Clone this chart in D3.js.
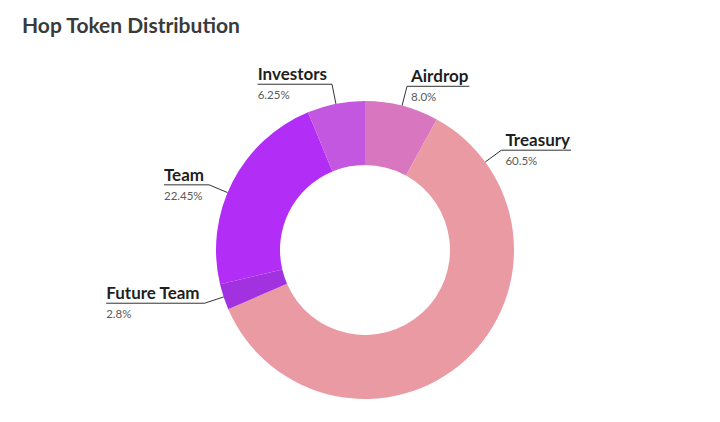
<!DOCTYPE html>
<html>
<head>
<meta charset="UTF-8">
<title>Hop Token Distribution</title>
<style>
html, body {
    margin: 0;
    padding: 0;
    background-color: #fff;
}
.title {
    font-family: Lato, sans-serif;
    font-weight: 700;
    font-size: 21px;
    fill: #3a3a3a;
}
.lbl-name {
    font-family: Lato, sans-serif;
    font-weight: 700;
    font-size: 17px;
    fill: #1f1f1f;
}
.lbl-pct {
    font-family: Lato, sans-serif;
    font-size: 11.5px;
    fill: #5a5a5a;
}
.leader {
    fill: none;
    stroke: #333;
    stroke-width: 1;
}
</style>
</head>
<body>
<div class="chart"></div>
<script src="https://cdn.jsdelivr.net/npm/d3@7/dist/d3.min.js"></script>
<script>
let categories = ['Airdrop', 'Treasury', 'Future Team', 'Team', 'Investors'];
let shares = [8.0, 60.5, 2.8, 22.45, 6.25];
let pctLabels = ['8.0%', '60.5%', '2.8%', '22.45%', '6.25%'];
let colors = ['#d876c0', '#ea9aa2', '#a232e0', '#b22ef7', '#c457df'];

let width = 720, height = 422;
let cx = 365, cy = 250, outerR = 149, innerR = 85;

let svg = d3.select('.chart').append('svg')
    .attr('width', width)
    .attr('height', height);

svg.append('text')
    .attr('class', 'title')
    .attr('x', 22)
    .attr('y', 33)
    .text('Hop Token Distribution');

let data = categories.map((c, i) => ({name: c, value: shares[i], pct: pctLabels[i], color: colors[i]}));

let pie = d3.pie()
    .value((d) => d.value)
    .sort(null);

let arc = d3.arc()
    .innerRadius(innerR)
    .outerRadius(outerR);

let arcs = pie(data);

let g = svg.append('g')
    .attr('transform', `translate(${cx},${cy})`);

g.selectAll('path.slice')
    .data(arcs)
    .enter().append('path')
    .attr('class', 'slice')
    .attr('d', arc)
    .attr('fill', (d) => d.data.color);

// label angle: middle of slice, wide slices get pulled toward their start
const deg = Math.PI / 180;
function labelAngle(d) {
    let span = d.endAngle - d.startAngle;
    if (span > Math.PI) return d.startAngle + 25 * deg;
    return d.startAngle + Math.min(span / 2, 36 * deg);
}

let labels = g.selectAll('g.label')
    .data(arcs)
    .enter().append('g')
    .attr('class', 'label');

labels.each(function (d) {
    let sel = d3.select(this);
    let a = labelAngle(d);
    let right = Math.sin(a) > 0;
    let p0 = [outerR * Math.sin(a), -outerR * Math.cos(a)];
    let p1 = [169 * Math.sin(a), -169 * Math.cos(a)];

    let name = sel.append('text')
        .attr('class', 'lbl-name')
        .text(d.data.name);
    let tw = name.node().getComputedTextLength();

    let textX = right ? p1[0] + 4 : p1[0] - 5 - tw;
    let lineEnd = right ? textX + tw + 1 : textX;

    name.attr('x', textX).attr('y', p1[1] - 4);

    sel.append('text')
        .attr('class', 'lbl-pct')
        .attr('x', textX)
        .attr('y', p1[1] + 15)
        .text(d.data.pct);

    sel.append('path')
        .attr('class', 'leader')
        .attr('d', d3.line()([p0, p1, [lineEnd, p1[1]]]));
});
</script>
</body>
</html>
